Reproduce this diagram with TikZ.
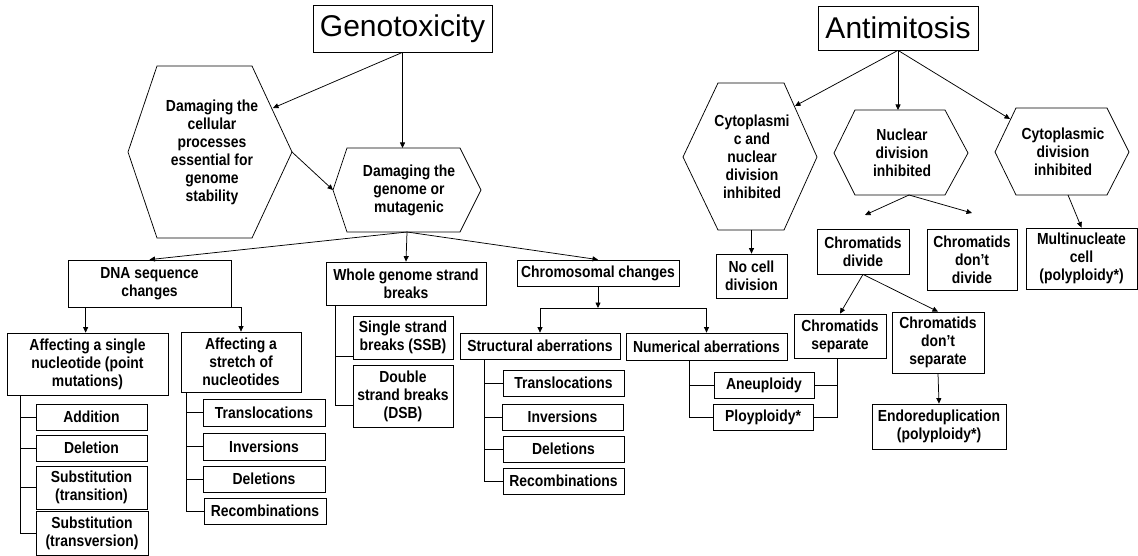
\documentclass[tikz,border=0pt]{standalone}
\usepackage{fontspec}
\setmainfont{Liberation Sans}
\newfontfamily\nodefont{Liberation Sans}[FakeStretch=0.87,Ligatures=TeX]
\usetikzlibrary{arrows.meta}
\begin{document}
\begin{tikzpicture}[x=1pt,y=-1pt,line width=0.75pt,
  sz/.style 2 args={minimum width=#1pt,minimum height=#2pt},
  bx/.style={draw,inner sep=0pt,align=center,font=\nodefont\fontsize{16}{18}\selectfont\bfseries},
  ttl/.style={draw,inner sep=0pt,font=\fontsize{30}{36}\selectfont},
  txt/.style={inner sep=0pt,align=center,font=\nodefont\fontsize{16}{18}\selectfont\bfseries},
  arr/.style={-{Triangle[length=5.5pt,width=5pt]}}]
\fill[white] (0,0) rectangle (1138,556);
\useasboundingbox (0,0) rectangle (1138,556);

% titles
\node[ttl,sz={179}{47}] (geno) at (402.5,28.5) {Genotoxicity};
\node[ttl,sz={160}{44}] (anti) at (898,28) {Antimitosis};

% hexagons (left part)
\draw (157,66) -- (252,66) -- (292,152) -- (252,238) -- (157,238) -- (128,152) -- cycle;
\node[txt] (h1) at (212,152) {Damaging the\\cellular\\processes\\essential for\\genome\\stability};
\coordinate (h1ne) at (273,108);
\coordinate (h1r) at (292,152);
\draw (347,148) -- (460,148) -- (481,190) -- (460,232) -- (347,232) -- (333,190) -- cycle;
\node[txt] (h2) at (409,190) {Damaging the\\genome or\\mutagenic};
\coordinate (h2t) at (402.5,148);
\coordinate (h2l) at (333,190);
\coordinate (h2b) at (407,232);

% hexagons (right part)
\draw (718,83) -- (784,83) -- (817,157) -- (784,230) -- (718,230) -- (683,157) -- cycle;
\node[txt] (hA) at (752,157) {Cytoplasmi\\c and\\nuclear\\division\\inhibited};
\coordinate (hAne) at (795,106);
\coordinate (hAb) at (751.5,230);
\draw (855,110) -- (945,110) -- (968,153) -- (945,195) -- (855,195) -- (834,153) -- cycle;
\node[txt] (hB) at (902,153) {Nuclear\\division\\inhibited};
\coordinate (hBt) at (898,110);
\coordinate (hBb) at (909,195);
\coordinate (hBl) at (865,215);
\coordinate (hBr) at (972,213);
\draw (1016,108) -- (1107,108) -- (1129,152) -- (1107,195) -- (1016,195) -- (995,152) -- cycle;
\node[txt] (hC) at (1063,152) {Cytoplasmic\\division\\inhibited};
\coordinate (hCnw) at (1010,119);
\coordinate (hCb) at (1068,195);

% boxes: genotoxicity branch
\node[bx,sz={163}{47}] (dna) at (149.5,283.5) {DNA sequence\\changes};
\node[bx,sz={161}{62}] (single) at (87.5,364) {Affecting a single\\nucleotide (point\\mutations)};
\node[bx,sz={120}{60}] (stretch) at (241,362) {Affecting a\\stretch of\\nucleotides};
\node[bx,sz={111}{26}] (add) at (91.5,417) {Addition};
\node[bx,sz={111}{26}] (del) at (91.5,448) {Deletion};
\node[bx,sz={111}{43}] (subt) at (91.5,487.5) {Substitution\\(transition)};
\node[bx,sz={112}{44}] (subv) at (92,533) {Substitution\\(transversion)};
\node[bx,sz={122}{27}] (tr1) at (264,412.5) {Translocations};
\node[bx,sz={122}{27}] (in1) at (264,446.5) {Inversions};
\node[bx,sz={122}{26}] (de1) at (264,479) {Deletions};
\node[bx,sz={122}{26}] (re1) at (265,511) {Recombinations};
\node[bx,sz={160}{43}] (whole) at (406,283.5) {Whole genome strand\\breaks};
\node[bx,sz={100}{43}] (ssb) at (403,337.5) {Single strand\\breaks (SSB)};
\node[bx,sz={100}{62}] (dsb) at (403,396) {Double\\strand breaks\\(DSB)};
\node[bx,sz={162}{26}] (chrom) at (598,273) {Chromosomal changes};
\node[bx,sz={160}{26}] (struct) at (540,346) {Structural aberrations};
\node[bx,sz={121}{26}] (tr2) at (563.5,383) {Translocations};
\node[bx,sz={121}{26}] (in2) at (562.5,417) {Inversions};
\node[bx,sz={121}{26}] (de2) at (563.5,449) {Deletions};
\node[bx,sz={121}{26}] (re2) at (563.5,481) {Recombinations};
\node[bx,sz={161}{27}] (numer) at (706.5,346.5) {Numerical aberrations};
\node[bx,sz={100}{26}] (aneu) at (764,385) {Aneuploidy};
\node[bx,sz={100}{26}] (ploy) at (763,417) {Ployploidy*};

% boxes: antimitosis branch
\node[bx,sz={71}{44}] (nocell) at (751.5,276) {No cell\\division};
\node[bx,sz={92}{45}] (divide) at (863,251.5) {Chromatids\\divide};
\node[bx,sz={90}{61}] (dontdiv) at (972,259.5) {Chromatids\\don’t\\divide};
\node[bx,sz={111}{61}] (multi) at (1081.5,258.5) {Multinucleate\\cell\\(polyploidy*)};
\node[bx,sz={92}{44}] (sep) at (840,336) {Chromatids\\separate};
\node[bx,sz={92}{61}] (dontsep) at (938,342.5) {Chromatids\\don’t\\separate};
\node[bx,sz={134}{45}] (endo) at (939,426.5) {Endoreduplication\\(polyploidy*)};

% connectors: genotoxicity
\draw[arr] (geno.south) -- (h1ne);
\draw[arr] (geno.south) -- (h2t);
\draw[arr] (h1r) -- (h2l);
\draw[arr] (h2b) -- (dna.north);
\draw[arr] (h2b) -- (whole.north);
\draw[arr] (h2b) -- (chrom.north);
\draw[arr] ([xshift=18pt]dna.south west) -- ([xshift=18pt]dna.south west |- single.north);
\draw[arr] (dna.south east) -| (stretch.north);
\foreach \b in {add,del,subt,subv}
  \draw ([xshift=14pt]single.south west) |- (\b.west);
\foreach \b in {tr1,in1,de1,re1}
  \draw ([xshift=6pt]stretch.south west) |- (\b.west);
\draw ([xshift=10pt]whole.south west) |- ([yshift=-18.5pt]ssb.west);
\draw ([xshift=10pt]whole.south west) |- ([yshift=-9pt]dsb.west);
\coordinate (cj) at (598,308);
\draw[arr] (chrom.south) -- (cj);
\draw (struct.north |- cj) -- (numer.north |- cj);
\draw[arr] (struct.north |- cj) -- (struct.north);
\draw[arr] (numer.north |- cj) -- (numer.north);
\foreach \b in {tr2,in2,de2,re2}
  \draw ([xshift=25pt]struct.south west) |- (\b.west);
\foreach \b in {aneu,ploy}
  \draw ([xshift=64pt]numer.south west) |- (\b.west);
\foreach \b in {aneu,ploy}
  \draw ([xshift=-3pt]sep.south) |- (\b.east);

% connectors: antimitosis
\draw[arr] (anti.south) -- (hAne);
\draw[arr] (anti.south) -- (hBt);
\draw[arr] (anti.south) -- (hCnw);
\draw[arr] (hAb) -- (nocell.north);
\draw[arr] (hBb) -- (hBl);
\draw[arr] (hBb) -- (hBr);
\draw[arr] (hCb) -- (multi.north);
\draw[arr] (divide.south) -- (sep.north);
\draw[arr] (divide.south) -- (dontsep.north);
\draw[arr] (dontsep.south) -- (endo.north);
\end{tikzpicture}
\end{document}
